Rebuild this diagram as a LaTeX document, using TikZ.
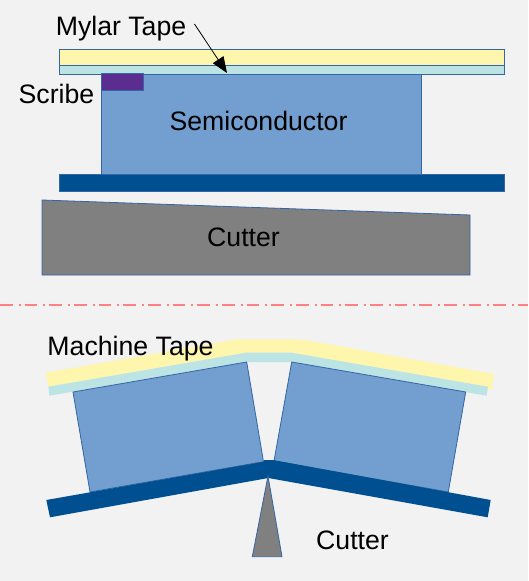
\documentclass[tikz,border=0pt]{standalone}
\usepackage{fontspec}
\setmainfont{Liberation Sans}
\usepackage{tikz}
\usetikzlibrary{arrows.meta, positioning}
\definecolor{pagegrey}{HTML}{F2F2F2}
\definecolor{tapeyellow}{HTML}{FFF6AE}
\definecolor{tapecyan}{HTML}{BCE4E4}
\definecolor{semiblue}{HTML}{729FCF}
\definecolor{baseblue}{HTML}{004F90}
\definecolor{scribepurple}{HTML}{5C2D91}
\definecolor{edgeblue}{HTML}{3465A4}
\definecolor{cutline}{HTML}{FF8080}
\tikzset{
  part/.style={draw=edgeblue, line width=0.6pt, line join=miter},
  tapepart/.style={line join=miter},
  tag/.style={font=\fontsize{20}{24}\selectfont, text=black, inner sep=0pt},
  callout/.style={-{Triangle[length=12pt, width=9.5pt]}, line width=0.6pt},
  splitline/.style={draw=cutline, line width=0.8pt, dash pattern=on 9.4pt off 4.6pt on 1.4pt off 3.1pt}
}

\begin{document}
\begin{tikzpicture}[x=0.75pt, y=-0.75pt]
    \fill[pagegrey] (0,0) rectangle (528,581);
    \useasboundingbox (0,0) rectangle (528,581);

    % before the cut
    \draw[part, fill=tapeyellow] (59,49) rectangle (504,65);
    \draw[part, fill=tapecyan] (59,65) rectangle (504,74);
    \draw[part, fill=semiblue] (101,74) rectangle (421,174);
    \draw[part, fill=scribepurple] (101,73) rectangle (143,90);
    \draw[part, fill=baseblue] (59,174) rectangle (504,191);
    \draw[part, fill=gray] (42,200) -- (470,215) -- (470,275) -- (42,275) -- cycle;
    \coordinate (tapehit) at (227,73);

    \node[tag] (mylar) at (121,29) {Mylar Tape};
    \node[tag] (scribe) at (56.5,94) {Scribe};
    \node[tag] (semi) at (258.5,121) {Semiconductor};
    \node[tag] (cutter) at (243.5,237) {Cutter};
    \draw[callout] ([shift={(8,-5)}]mylar.east) -- (tapehit);

    \draw[splitline] (0,305) -- (528,305);

    % after the cut
    \fill[tapepart, tapeyellow] (45.7,372.7) -- (236.7,339.3) -- (291.7,339.3) -- (305,340)
      -- (494,374) -- (491.7,390) -- (291.7,352.7) -- (246,352.7) -- (48.3,386.7) -- cycle;
    \fill[tapepart, tapecyan] (48.3,386.7) -- (246,352.7) -- (291.7,352.7) -- (488,386.7)
      -- (486.7,395.7) -- (291.7,362) -- (246.7,362) -- (49.3,395.7) -- cycle;
    \draw[part, fill=semiblue] (73,392) -- (246.7,362) -- (263.5,461.7) -- (90,492) -- cycle;
    \draw[part, fill=semiblue] (291.7,362) -- (465.7,392) -- (448.3,492) -- (274,461) -- cycle;
    \fill[baseblue] (46.3,500) -- (264,461.7) -- (264,460) -- (273,460) -- (490.7,500)
      -- (487.7,517.3) -- (268.3,478) -- (50,517.3) -- cycle;
    \draw[part, fill=gray] (268,476) -- (282,556.7) -- (252.3,556.7) -- cycle;

    \node[tag] (machine) at (130.5,349) {Machine Tape};
    \node[tag] (cutterlow) at (352.5,540) {Cutter};
\end{tikzpicture}
\end{document}
